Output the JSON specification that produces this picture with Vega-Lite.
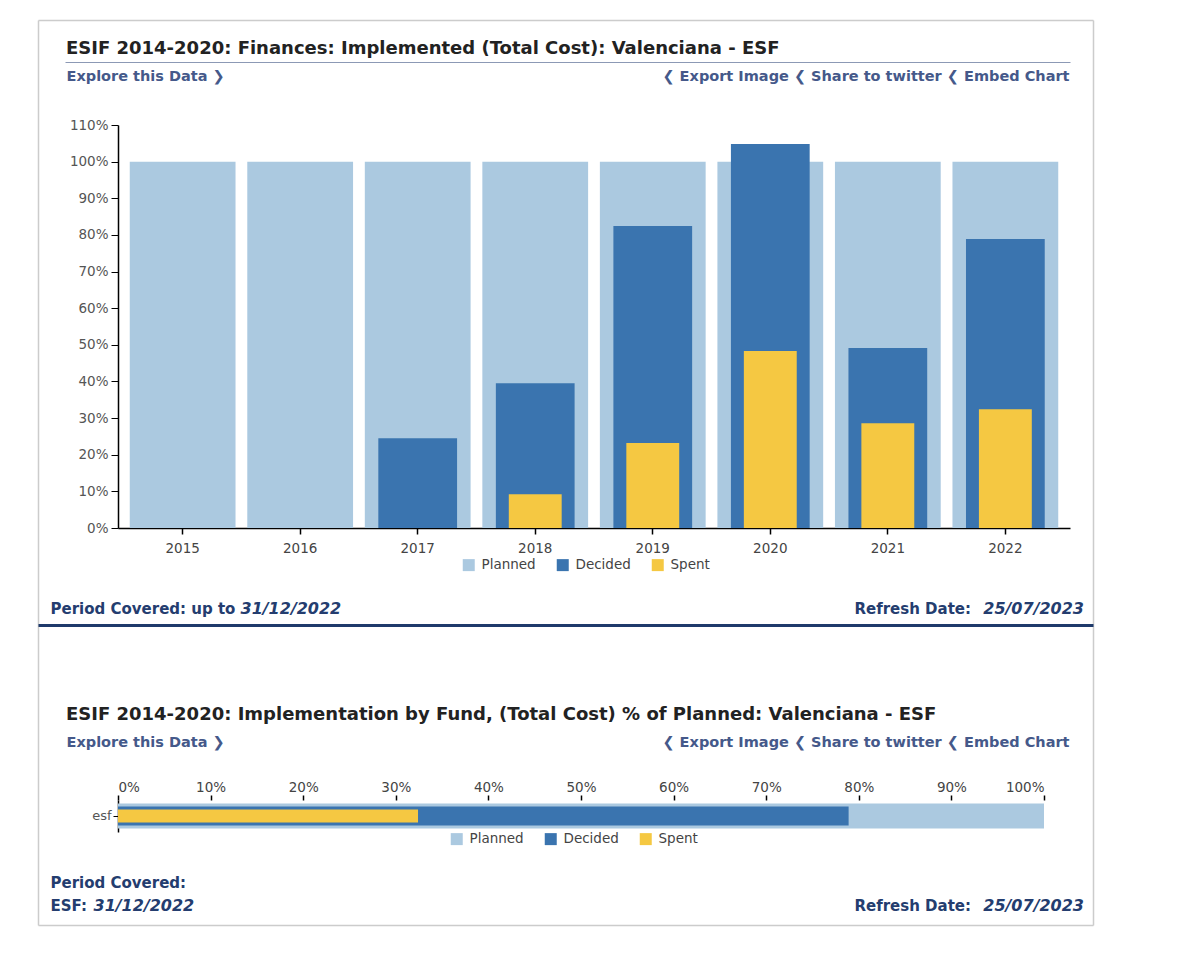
{
  "$schema": "https://vega.github.io/schema/vega-lite/v6.json",
  "background": "#ffffff",
  "padding": {"left": 35, "top": 20, "right": 10, "bottom": 10},
  "bounds": "flush",
  "spacing": 97,
  "config": {
    "font": "DejaVu Sans",
    "view": {"stroke": null},
    "axis": {"grid": false, "labelFont": "DejaVu Sans", "titleFont": "DejaVu Sans"},
    "legend": {"labelFont": "DejaVu Sans"},
    "title": {"font": "DejaVu Sans"}
  },
  "datasets": {
    "years": [
      {"year": "2015", "type": "Planned", "value": 1.0},
      {"year": "2016", "type": "Planned", "value": 1.0},
      {"year": "2017", "type": "Planned", "value": 1.0},
      {"year": "2018", "type": "Planned", "value": 1.0},
      {"year": "2019", "type": "Planned", "value": 1.0},
      {"year": "2020", "type": "Planned", "value": 1.0},
      {"year": "2021", "type": "Planned", "value": 1.0},
      {"year": "2022", "type": "Planned", "value": 1.0},
      {"year": "2015", "type": "Decided", "value": 0},
      {"year": "2016", "type": "Decided", "value": 0},
      {"year": "2017", "type": "Decided", "value": 0.245},
      {"year": "2018", "type": "Decided", "value": 0.395},
      {"year": "2019", "type": "Decided", "value": 0.824},
      {"year": "2020", "type": "Decided", "value": 1.048},
      {"year": "2021", "type": "Decided", "value": 0.491},
      {"year": "2022", "type": "Decided", "value": 0.789},
      {"year": "2015", "type": "Spent", "value": 0},
      {"year": "2016", "type": "Spent", "value": 0},
      {"year": "2017", "type": "Spent", "value": 0},
      {"year": "2018", "type": "Spent", "value": 0.092},
      {"year": "2019", "type": "Spent", "value": 0.232},
      {"year": "2020", "type": "Spent", "value": 0.483},
      {"year": "2021", "type": "Spent", "value": 0.286},
      {"year": "2022", "type": "Spent", "value": 0.324}
    ],
    "funds": [
      {"fund": "esf", "type": "Planned", "value": 1.0},
      {"fund": "esf", "type": "Decided", "value": 0.789},
      {"fund": "esf", "type": "Spent", "value": 0.324}
    ]
  },
  "resolve": {"scale": {"color": "independent"}},
  "vconcat": [
    {
      "width": 952,
      "height": 403,
      "title": {"text": "ESIF 2014-2020: Finances: Implemented (Total Cost): Valenciana - ESF", "anchor": "start", "frame": "group", "dx": -52, "dy": 56.5, "offset": 5, "baseline": "alphabetic", "fontSize": 18, "fontWeight": "bold", "color": "#222222"},
      "data": {"name": "years"},
      "encoding": {
        "color": {
          "field": "type", "type": "nominal",
          "scale": {"domain": ["Planned", "Decided", "Spent"], "range": ["#abc9e0", "#3a74af", "#f5c842"]},
          "legend": {"title": null, "orient": "none", "legendX": 344, "legendY": 433, "direction": "horizontal", "symbolType": "square", "symbolSize": 144, "symbolStrokeWidth": 0, "symbolOpacity": 1, "labelFontSize": 13.5, "labelColor": "#444444", "labelOffset": 6, "columnPadding": 20}
        }
      },
      "layer": [
        {
          "transform": [{"filter": "datum.type === 'Planned'"}],
          "mark": {"type": "bar", "width": {"band": 0.9}},
          "encoding": {
            "x": {"field": "year", "type": "ordinal", "scale": {"paddingInner": 0, "paddingOuter": 0.05},
              "axis": {"orient": "bottom", "title": null, "labelAngle": 0, "labelFontSize": 13.5, "labelColor": "#444444", "labelPadding": 7, "tickSize": 6, "tickColor": "#000000", "tickWidth": 1.5, "domainColor": "#000000", "domainWidth": 1.5}},
            "y": {"field": "value", "type": "quantitative", "scale": {"domain": [0, 1.1], "nice": false},
              "axis": {"orient": "left", "title": null, "values": [0, 0.1, 0.2, 0.3, 0.4, 0.5, 0.6, 0.7, 0.8, 0.9, 1, 1.1], "format": ".0%", "labelFontSize": 13.5, "labelColor": "#555555", "labelPadding": 3, "tickSize": 7, "tickColor": "#000000", "domainColor": "#000000", "domainWidth": 1.5}}
          }
        },
        {
          "transform": [{"filter": "datum.type === 'Decided'"}],
          "mark": {"type": "bar", "width": {"band": 0.67}},
          "encoding": {
            "x": {"field": "year", "type": "ordinal", "scale": {"paddingInner": 0, "paddingOuter": 0.05}, "axis": null},
            "y": {"field": "value", "type": "quantitative", "scale": {"domain": [0, 1.1], "nice": false},
              "axis": {"orient": "right", "domain": false, "labels": false, "ticks": false, "title": "Explore this Data  ❯", "titleAngle": 0, "titleX": -1004, "titleY": -44.5, "titleAlign": "left", "titleBaseline": "alphabetic", "titleFontSize": 14.5, "titleFontWeight": "bold", "titleColor": "#45598a"}}
          }
        },
        {
          "transform": [{"filter": "datum.type === 'Spent'"}],
          "mark": {"type": "bar", "width": {"band": 0.45}},
          "encoding": {
            "x": {"field": "year", "type": "ordinal", "scale": {"paddingInner": 0, "paddingOuter": 0.05}, "axis": null},
            "y": {"field": "value", "type": "quantitative", "scale": {"domain": [0, 1.1], "nice": false}, "axis": null}
          }
        },
        {
          "mark": {"type": "point", "opacity": 0},
          "encoding": {
            "x": {"field": "value", "type": "quantitative", "scale": {"range": [-53, 952]},
              "axis": {"orient": "top", "offset": 63, "domain": true, "domainColor": "#8c99b5", "domainWidth": 1, "labels": false, "ticks": false, "title": "❮ Export Image ❮ Share to twitter ❮ Embed Chart", "titleX": 951, "titleY": 18.5, "titleAlign": "right", "titleAnchor": "end", "titleBaseline": "alphabetic", "titleFontSize": 14.5, "titleFontWeight": "bold", "titleColor": "#45598a"}},
            "y": {"field": "value", "type": "quantitative", "scale": {"range": [800, -105]},
              "axis": {"orient": "left", "offset": 80, "domain": true, "domainColor": "#cccccc", "domainWidth": 1.5, "labels": false, "ticks": false, "title": null}}
          }
        },
        {
          "mark": {"type": "point", "opacity": 0},
          "encoding": {
            "x": {"field": "value", "type": "quantitative", "scale": {"range": [-80, 975]},
              "axis": {"orient": "top", "offset": 105, "domain": true, "domainColor": "#cccccc", "domainWidth": 1.5, "labels": false, "ticks": false, "title": null}},
            "y": {"field": "value", "type": "quantitative", "scale": {"range": [800, -105]},
              "axis": {"orient": "right", "offset": 23, "domain": true, "domainColor": "#cccccc", "domainWidth": 1.5, "labels": false, "ticks": false, "title": null}}
          }
        },
        {
          "mark": {"type": "point", "opacity": 0},
          "encoding": {
            "x": {"field": "value", "type": "quantitative", "scale": {"range": [-80, 975]},
              "axis": {"orient": "bottom", "offset": 397, "domain": true, "domainColor": "#cccccc", "domainWidth": 1.5, "labels": false, "ticks": false, "title": null}},
            "y": {"field": "value", "type": "quantitative", "axis": null}
          }
        }
      ],
      "resolve": {"scale": {"x": "independent", "y": "independent"}, "axis": {"x": "independent", "y": "independent"}}
    },
    {
      "width": 975,
      "height": 78,
      "data": {"name": "funds"},
      "layer": [
        {
          "mark": {"type": "point", "opacity": 0},
          "encoding": {
            "x": {"field": "value", "type": "quantitative", "scale": {"range": [-80, 975]},
              "axis": {"orient": "top", "domain": true, "domainColor": "#1f3a6b", "domainWidth": 3, "labels": false, "ticks": false, "title": "Period Covered: up to", "titleX": -68, "titleY": -12, "titleAlign": "left", "titleBaseline": "alphabetic", "titleFontSize": 15, "titleFontWeight": "bold", "titleColor": "#243d6f"}},
            "y": {"field": "value", "type": "quantitative",
              "axis": {"orient": "left", "domain": false, "labels": false, "ticks": false, "title": "31/12/2022", "titleAngle": 0, "titleX": 122, "titleY": -12, "titleAlign": "left", "titleBaseline": "alphabetic", "titleFontSize": 16, "titleFontWeight": "bold", "titleFontStyle": "italic", "titleColor": "#243d6f"}}
          }
        },
        {
          "mark": {"type": "point", "opacity": 0},
          "encoding": {
            "x": {"field": "value", "type": "quantitative",
              "axis": {"orient": "bottom", "domain": false, "labels": false, "ticks": false, "title": "Refresh Date:", "titleX": 852.5, "titleY": -90, "titleAlign": "right", "titleBaseline": "alphabetic", "titleFontSize": 15, "titleFontWeight": "bold", "titleColor": "#243d6f"}},
            "y": {"field": "value", "type": "quantitative",
              "axis": {"orient": "right", "domain": false, "labels": false, "ticks": false, "title": "25/07/2023", "titleAngle": 0, "titleX": -9.5, "titleY": -12, "titleAlign": "right", "titleBaseline": "alphabetic", "titleFontSize": 16, "titleFontWeight": "bold", "titleFontStyle": "italic", "titleColor": "#243d6f"}}
          }
        }
      ],
      "resolve": {"axis": {"x": "independent", "y": "independent"}}
    },
    {
      "width": 926,
      "height": 32,
      "title": {"text": "ESIF 2014-2020: Implementation by Fund, (Total Cost) % of Planned: Valenciana - ESF", "anchor": "start", "frame": "group", "dx": -52, "dy": 20, "offset": 16, "baseline": "alphabetic", "fontSize": 18, "fontWeight": "bold", "color": "#222222"},
      "data": {"name": "funds"},
      "encoding": {
        "color": {
          "field": "type", "type": "nominal",
          "scale": {"domain": ["Planned", "Decided", "Spent"], "range": ["#abc9e0", "#3a74af", "#f5c842"]},
          "legend": {"title": null, "orient": "none", "legendX": 332, "legendY": 32, "direction": "horizontal", "symbolType": "square", "symbolSize": 144, "symbolStrokeWidth": 0, "symbolOpacity": 1, "labelFontSize": 13.5, "labelColor": "#444444", "labelOffset": 6, "columnPadding": 20}
        }
      },
      "layer": [
        {
          "transform": [{"filter": "datum.type === 'Planned'"}],
          "mark": {"type": "bar", "height": {"band": 0.78}},
          "encoding": {
            "x": {"field": "value", "type": "quantitative", "scale": {"domain": [0, 1], "nice": false},
              "axis": {"orient": "top", "values": [0, 0.1, 0.2, 0.3, 0.4, 0.5, 0.6, 0.7, 0.8, 0.9, 1], "format": ".0%", "domain": false, "tickSize": 5, "tickColor": "#000000", "tickWidth": 1.5, "labelFontSize": 13.5, "labelColor": "#444444", "labelPadding": 1, "title": "❮ Export Image ❮ Share to twitter ❮ Embed Chart", "titleX": 951, "titleY": -54, "titleAlign": "right", "titleAnchor": "end", "titleBaseline": "alphabetic", "titleFontSize": 14.5, "titleFontWeight": "bold", "titleColor": "#45598a"}},
            "y": {"field": "fund", "type": "nominal", "scale": {"paddingInner": 0, "paddingOuter": 0},
              "axis": {"orient": "left", "title": null, "domainColor": "#000000", "domainWidth": 1.5, "tickColor": "#000000", "tickSize": 5, "labelFontSize": 13, "labelColor": "#555555", "labelPadding": 2}}
          }
        },
        {
          "transform": [{"filter": "datum.type === 'Decided'"}],
          "mark": {"type": "bar", "height": {"band": 0.6}},
          "encoding": {
            "x": {"field": "value", "type": "quantitative", "axis": null},
            "y": {"field": "fund", "type": "nominal",
              "axis": {"orient": "right", "domain": false, "labels": false, "ticks": false, "title": "Explore this Data  ❯", "titleAngle": 0, "titleX": -978, "titleY": -54, "titleAlign": "left", "titleBaseline": "alphabetic", "titleFontSize": 14.5, "titleFontWeight": "bold", "titleColor": "#45598a"}}
          }
        },
        {
          "transform": [{"filter": "datum.type === 'Spent'"}],
          "mark": {"type": "bar", "height": {"band": 0.4}},
          "encoding": {
            "x": {"field": "value", "type": "quantitative", "axis": null},
            "y": {"field": "fund", "type": "nominal", "axis": null}
          }
        }
      ],
      "resolve": {"axis": {"x": "independent", "y": "independent"}}
    },
    {
      "width": 975,
      "height": 1,
      "data": {"name": "funds"},
      "layer": [
        {
          "mark": {"type": "point", "opacity": 0},
          "encoding": {
            "x": {"field": "value", "type": "quantitative",
              "axis": {"orient": "top", "domain": false, "labels": false, "ticks": false, "title": ["Period Covered:", "ESF:"], "titleLineHeight": 23, "titleX": -68, "titleY": -42, "titleAlign": "left", "titleBaseline": "alphabetic", "titleFontSize": 15, "titleFontWeight": "bold", "titleColor": "#243d6f"}},
            "y": {"field": "value", "type": "quantitative",
              "axis": {"orient": "left", "domain": false, "labels": false, "ticks": false, "title": "31/12/2022", "titleAngle": 0, "titleX": -25, "titleY": -19, "titleAlign": "left", "titleBaseline": "alphabetic", "titleFontSize": 16, "titleFontWeight": "bold", "titleFontStyle": "italic", "titleColor": "#243d6f"}}
          }
        },
        {
          "mark": {"type": "point", "opacity": 0},
          "encoding": {
            "x": {"field": "value", "type": "quantitative",
              "axis": {"orient": "bottom", "domain": false, "labels": false, "ticks": false, "title": "Refresh Date:", "titleX": 852.5, "titleY": -20, "titleAlign": "right", "titleBaseline": "alphabetic", "titleFontSize": 15, "titleFontWeight": "bold", "titleColor": "#243d6f"}},
            "y": {"field": "value", "type": "quantitative",
              "axis": {"orient": "right", "domain": false, "labels": false, "ticks": false, "title": "25/07/2023", "titleAngle": 0, "titleX": -9.5, "titleY": -19, "titleAlign": "right", "titleBaseline": "alphabetic", "titleFontSize": 16, "titleFontWeight": "bold", "titleFontStyle": "italic", "titleColor": "#243d6f"}}
          }
        }
      ],
      "resolve": {"axis": {"x": "independent", "y": "independent"}}
    }
  ]
}
